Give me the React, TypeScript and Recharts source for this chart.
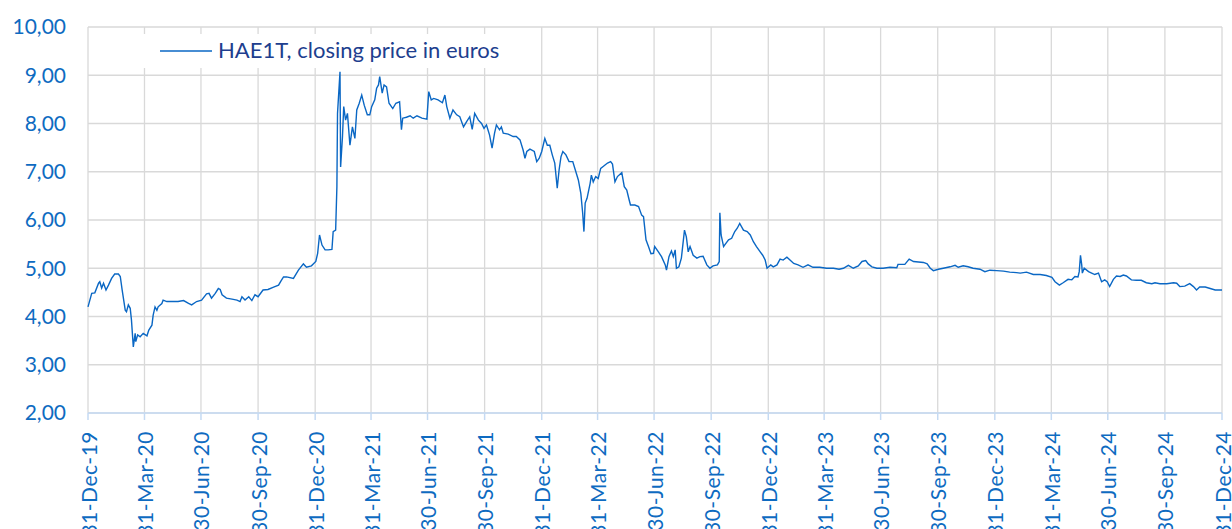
import { LineChart, Line, XAxis, YAxis, CartesianGrid } from "recharts";

// [days since 31-Dec-2019, closing price in EUR]
const closes2020: [number, number][] = [
  [0, 4.2], [6, 4.48], [11, 4.49], [17, 4.69], [19, 4.72], [22, 4.59], [25, 4.69], [29, 4.55],
  [33, 4.65], [38, 4.79], [43, 4.88], [49, 4.88], [52, 4.83], [55, 4.55], [60, 4.13], [62, 4.1],
  [65, 4.24], [68, 4.17], [70, 3.93], [73, 3.37], [76, 3.65], [77, 3.48], [80, 3.62], [84, 3.58],
  [89, 3.65], [95, 3.6], [98, 3.72], [103, 3.82], [105, 4.03], [108, 4.2], [111, 4.13], [113, 4.2],
  [119, 4.27], [121, 4.34], [127, 4.31], [135, 4.31], [145, 4.31], [154, 4.33], [162, 4.27],
  [167, 4.24], [175, 4.31], [183, 4.34], [191, 4.47], [195, 4.48], [199, 4.38], [205, 4.48],
  [210, 4.58], [213, 4.56], [216, 4.45], [223, 4.38], [232, 4.36], [240, 4.34], [245, 4.31],
  [248, 4.41], [253, 4.34], [259, 4.41], [264, 4.33], [269, 4.45], [274, 4.41], [282, 4.55],
  [290, 4.56], [299, 4.61], [307, 4.65], [311, 4.74], [315, 4.82], [320, 4.82], [331, 4.79],
  [339, 4.96], [347, 5.09], [352, 5.02], [360, 5.05],
];

const closes2021: [number, number][] = [
  [367, 5.14], [370, 5.31], [373, 5.69], [377, 5.48], [382, 5.38], [387, 5.38], [393, 5.39],
  [395, 5.76], [399, 5.79], [401, 6.69], [402, 8.21], [406, 9.07], [407, 7.1], [410, 7.73],
  [412, 8.35], [415, 8.07], [418, 8.21], [422, 7.55], [426, 7.93], [430, 7.69], [433, 8.28],
  [437, 8.42], [441, 8.59], [445, 8.38], [450, 8.18], [454, 8.18], [457, 8.35], [462, 8.49],
  [465, 8.73], [468, 8.8], [470, 8.97], [474, 8.63], [477, 8.8], [481, 8.76], [485, 8.42],
  [491, 8.31], [496, 8.42], [502, 8.45], [505, 7.87], [507, 8.11], [513, 8.13], [519, 8.16],
  [524, 8.11], [530, 8.16], [538, 8.11], [546, 8.09], [549, 8.66], [553, 8.49], [557, 8.52],
  [564, 8.49], [571, 8.43], [575, 8.59], [578, 8.35], [583, 8.11], [588, 8.28], [594, 8.18],
  [599, 8.14], [605, 7.93], [610, 8.04], [615, 8.14], [619, 7.88], [623, 8.21], [629, 8.07],
  [634, 8.0], [638, 7.9], [642, 7.97], [647, 7.76], [651, 7.49], [655, 7.8], [658, 7.97],
  [663, 7.87], [666, 7.93], [669, 7.8], [677, 7.78], [685, 7.73], [690, 7.73], [696, 7.66],
  [701, 7.45], [704, 7.28], [707, 7.42], [712, 7.47], [719, 7.42], [723, 7.21], [727, 7.28],
  [731, 7.42],
];

const closes2022: [number, number][] = [
  [736, 7.69], [740, 7.55], [744, 7.55], [748, 7.35], [752, 7.18], [756, 6.66], [759, 7.04],
  [762, 7.31], [765, 7.42], [770, 7.35], [775, 7.21], [781, 7.21], [785, 7.04], [790, 6.83],
  [794, 6.55], [797, 6.14], [799, 5.76], [801, 6.35], [804, 6.45], [809, 6.76], [811, 6.93],
  [814, 6.79], [818, 6.9], [822, 6.86], [826, 7.07], [831, 7.12], [837, 7.18], [842, 7.21],
  [845, 7.16], [849, 6.79], [853, 6.9], [860, 6.98], [864, 6.69], [868, 6.62], [872, 6.41],
  [874, 6.31], [881, 6.31], [887, 6.28], [892, 6.1], [895, 6.07], [899, 5.59], [903, 5.45],
  [907, 5.3], [911, 5.31], [913, 5.45], [919, 5.34], [924, 5.24], [930, 5.07], [932, 4.96],
  [936, 5.24], [940, 5.36], [943, 5.24], [946, 5.38], [948, 5.0], [952, 5.03], [956, 5.21],
  [961, 5.79], [964, 5.65], [967, 5.34], [970, 5.45], [975, 5.27], [981, 5.21], [986, 5.24],
  [991, 5.25], [997, 5.07], [1002, 5.0], [1007, 5.05], [1014, 5.07], [1017, 5.14], [1018, 6.15],
  [1020, 5.69], [1024, 5.45], [1028, 5.52], [1032, 5.59], [1037, 5.62], [1042, 5.76],
  [1046, 5.83], [1050, 5.93], [1056, 5.79], [1062, 5.76], [1067, 5.69], [1072, 5.55],
  [1077, 5.45], [1083, 5.34], [1087, 5.27], [1091, 5.17], [1094, 5.0],
];

const closes2023: [number, number][] = [
  [1100, 5.07], [1104, 5.03], [1110, 5.07], [1115, 5.19], [1120, 5.17], [1126, 5.23],
  [1131, 5.17], [1137, 5.1], [1144, 5.07], [1152, 5.02], [1160, 5.07], [1168, 5.02],
  [1179, 5.02], [1190, 5.0], [1201, 5.0], [1210, 4.98], [1217, 5.0], [1225, 5.06], [1233, 5.0],
  [1241, 5.05], [1247, 5.14], [1253, 5.16], [1257, 5.09], [1263, 5.03], [1271, 5.0],
  [1281, 5.0], [1292, 5.02], [1303, 5.01], [1305, 5.08], [1316, 5.08], [1323, 5.19],
  [1330, 5.14], [1338, 5.13], [1346, 5.12], [1352, 5.09], [1357, 5.0], [1362, 4.95],
  [1370, 4.98], [1378, 5.0], [1389, 5.03], [1397, 5.06], [1402, 5.02], [1410, 5.05],
  [1418, 5.03], [1426, 5.0], [1437, 4.98], [1445, 4.93], [1453, 4.96],
];

const closes2024: [number, number][] = [
  [1464, 4.95], [1475, 4.94], [1485, 4.92], [1496, 4.91], [1502, 4.9], [1512, 4.92],
  [1523, 4.87], [1534, 4.87], [1544, 4.85], [1553, 4.81], [1558, 4.72], [1565, 4.65],
  [1571, 4.7], [1579, 4.77], [1585, 4.76], [1590, 4.83], [1595, 4.82], [1597, 4.93],
  [1599, 5.27], [1601, 5.07], [1602, 4.9], [1605, 5.0], [1612, 4.93], [1617, 4.9], [1622, 4.87],
  [1628, 4.9], [1633, 4.72], [1638, 4.76], [1642, 4.72], [1646, 4.62], [1652, 4.77],
  [1657, 4.84], [1663, 4.83], [1668, 4.86], [1673, 4.84], [1681, 4.76], [1689, 4.75],
  [1697, 4.75], [1705, 4.7], [1714, 4.68], [1719, 4.7], [1727, 4.68], [1738, 4.68],
  [1749, 4.7], [1754, 4.69], [1759, 4.62], [1767, 4.63], [1775, 4.68], [1781, 4.62],
  [1786, 4.55], [1791, 4.61], [1800, 4.61], [1808, 4.58], [1816, 4.55], [1824, 4.55],
  [1827, 4.55],
];

// quarter ends, days since 31-Dec-2019
const quarterDays = [
  0, 91, 182, 274, 366, 456, 547, 639, 731, 821, 912, 1004, 1096, 1186, 1277, 1369, 1461, 1552,
  1643, 1735, 1827,
];
const quarterLabels = [
  "31-Dec-19", "31-Mar-20", "30-Jun-20", "30-Sep-20", "31-Dec-20", "31-Mar-21", "30-Jun-21",
  "30-Sep-21", "31-Dec-21", "31-Mar-22", "30-Jun-22", "30-Sep-22", "31-Dec-22", "31-Mar-23",
  "30-Jun-23", "30-Sep-23", "31-Dec-23", "31-Mar-24", "30-Jun-24", "30-Sep-24", "31-Dec-24",
];
const priceTicks = [2, 3, 4, 5, 6, 7, 8, 9, 10];

const SERIES_NAME = "HAE1T, closing price in euros";
const LINE_COLOR = "#0A67C4";
const TICK_COLOR = "#0E6BC1";
const FONT = "Lato, 'Open Sans', sans-serif";

const data = [...closes2020, ...closes2021, ...closes2022, ...closes2023, ...closes2024].map(
  ([day, price]) => ({ day, price })
);

function DateTick({ x, y, payload }: any) {
  const i = quarterDays.indexOf(payload.value);
  return (
    <text
      transform={`translate(${x},${y + 9}) rotate(-90)`}
      textAnchor="end"
      dominantBaseline="central"
      fill={TICK_COLOR}
      fontSize={21}
      letterSpacing={0.5}
      fontFamily={FONT}
    >
      {quarterLabels[i]}
    </text>
  );
}

// legend drawn as an overlay so it does not shrink the plot area
function LegendBox() {
  return (
    <svg
      width={385}
      height={34}
      style={{ position: "absolute", left: 140, top: 34, background: "#fff" }}
    >
      <line x1={20} x2={72} y1={17} y2={17} stroke={LINE_COLOR} strokeWidth={1.3} />
      <text x={78} y={24} fill="#203E8E" fontSize={22} fontFamily={FONT}>
        {SERIES_NAME}
      </text>
    </svg>
  );
}

export default function App() {
  return (
    <div style={{ position: "absolute", left: 0, top: 0, width: 1232, height: 529, background: "#fff" }}>
      <LineChart
        width={1232}
        height={529}
        data={data}
        margin={{ top: 27, right: 10, left: 0, bottom: 0 }}
      >
        <CartesianGrid stroke="#D9D9D9" strokeWidth={1.3} />
        <XAxis
          dataKey="day"
          type="number"
          domain={[0, 1827]}
          ticks={quarterDays}
          interval={0}
          height={116}
          tick={<DateTick />}
          tickSize={7}
          axisLine={{ stroke: "#C5DAF3", strokeWidth: 1.5 }}
          tickLine={{ stroke: "#C5DAF3", strokeWidth: 1.5 }}
        />
        <YAxis
          type="number"
          domain={[2, 10]}
          ticks={priceTicks}
          interval={0}
          width={88}
          axisLine={false}
          tickLine={false}
          tickMargin={16}
          tick={{ fill: TICK_COLOR, fontSize: 21, fontFamily: FONT }}
          tickFormatter={(v: number) => v.toFixed(2).replace(".", ",")}
        />
        <Line
          type="linear"
          dataKey="price"
          name={SERIES_NAME}
          stroke={LINE_COLOR}
          strokeWidth={1.4}
          dot={false}
          activeDot={false}
          isAnimationActive={false}
        />
      </LineChart>
      <LegendBox />
    </div>
  );
}
